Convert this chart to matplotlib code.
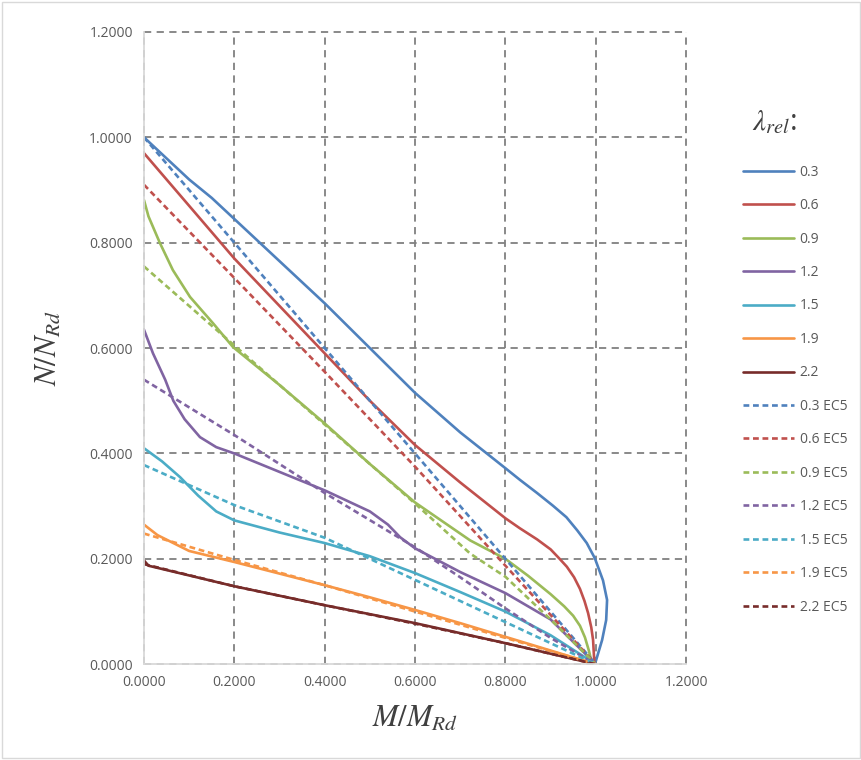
import matplotlib.pyplot as plt
from matplotlib.patches import Rectangle

plt.rcParams['font.family'] = ['Open Sans', 'DejaVu Sans']
plt.rcParams['mathtext.fontset'] = 'stix'

# slenderness values and Excel-like colours
labels = ['0.3', '0.6', '0.9', '1.2', '1.5', '1.9', '2.2']
colors = ['#4F81BD', '#C0504D', '#9BBB59', '#8064A2', '#4BACC6', '#F79646', '#772C2A']

# numerical model (solid)
m_03 = [0, 0.05, 0.1, 0.15, 0.2, 0.3, 0.4, 0.5, 0.6, 0.7, 0.8, 0.832, 0.87, 0.905, 0.935, 0.959,
        0.98, 0.998, 1.016, 1.025, 1.023, 1.014, 1.005, 0.998]
n_03 = [1.0, 0.96, 0.92, 0.885, 0.845, 0.765, 0.685, 0.6, 0.515, 0.44, 0.372, 0.35, 0.325, 0.301,
        0.279, 0.254, 0.23, 0.201, 0.159, 0.122, 0.084, 0.046, 0.02, 0.0]
m_06 = [0, 0.1, 0.2, 0.3, 0.4, 0.5, 0.6, 0.7, 0.8, 0.832, 0.87, 0.9, 0.92, 0.936, 0.952, 0.965,
        0.975, 0.983, 0.99, 0.994, 0.997]
n_06 = [0.97, 0.87, 0.77, 0.68, 0.59, 0.5, 0.416, 0.345, 0.277, 0.258, 0.237, 0.218, 0.2, 0.185,
        0.165, 0.143, 0.12, 0.097, 0.07, 0.046, 0.0]
m_09 = [0, 0.01, 0.035, 0.064, 0.102, 0.153, 0.197, 0.3, 0.4, 0.5, 0.6, 0.722, 0.8, 0.85, 0.9,
        0.93, 0.95, 0.965, 0.976, 0.985, 0.992]
n_09 = [0.881, 0.85, 0.80, 0.748, 0.697, 0.647, 0.602, 0.53, 0.457, 0.38, 0.307, 0.235, 0.2, 0.168,
        0.133, 0.11, 0.092, 0.073, 0.051, 0.025, 0.0]
m_12 = [0, 0.02, 0.047, 0.065, 0.09, 0.124, 0.16, 0.2, 0.3, 0.4, 0.45, 0.5, 0.54, 0.567, 0.6, 0.7,
        0.8, 0.9, 1.0]
n_12 = [0.635, 0.59, 0.54, 0.50, 0.465, 0.431, 0.412, 0.40, 0.365, 0.33, 0.31, 0.29, 0.265, 0.241,
        0.22, 0.175, 0.135, 0.085, 0.0]
m_15 = [0, 0.04, 0.08, 0.12, 0.16, 0.2, 0.3, 0.4, 0.5, 0.6, 0.7, 0.8, 0.9, 1.0]
n_15 = [0.41, 0.385, 0.355, 0.32, 0.29, 0.273, 0.25, 0.23, 0.205, 0.173, 0.137, 0.10, 0.055, 0.0]
m_19 = [0, 0.03, 0.065, 0.1, 0.2, 0.3, 0.4, 0.5, 0.6, 0.7, 0.8, 0.9, 1.0]
n_19 = [0.265, 0.245, 0.23, 0.215, 0.194, 0.172, 0.15, 0.127, 0.103, 0.078, 0.052, 0.026, 0.0]
m_22 = [0, 0.01, 0.2, 0.4, 0.6, 0.8, 1.0]
n_22 = [0.197, 0.187, 0.148, 0.112, 0.078, 0.04, 0.0]

# EC5 (dashed)
me_03 = [0, 0.2, 0.4, 0.6, 0.8, 1.0]
ne_03 = [1.0, 0.8, 0.6, 0.4, 0.2, 0.0]
me_06 = [0, 0.2, 0.4, 0.6, 0.8, 1.0]
ne_06 = [0.91, 0.733, 0.555, 0.375, 0.187, 0.0]
me_09 = [0, 0.1, 0.2, 0.3, 0.4, 0.5, 0.6, 0.722, 0.8, 0.9, 1.0]
ne_09 = [0.755, 0.68, 0.605, 0.53, 0.455, 0.38, 0.305, 0.21, 0.166, 0.085, 0.0]
me_12 = [0, 0.2, 0.4, 0.6, 0.7, 0.8, 0.9, 1.0]
ne_12 = [0.54, 0.435, 0.325, 0.222, 0.165, 0.106, 0.05, 0.0]
me_15 = [0, 0.2, 0.4, 0.6, 0.8, 1.0]
ne_15 = [0.378, 0.302, 0.24, 0.16, 0.08, 0.0]
me_19 = [0, 0.2, 0.4, 0.6, 0.8, 1.0]
ne_19 = [0.248, 0.198, 0.15, 0.1, 0.05, 0.0]
me_22 = [0, 0.2, 0.4, 0.6, 0.8, 1.0]
ne_22 = [0.19, 0.148, 0.112, 0.077, 0.04, 0.0]

solid = [(m_03, n_03), (m_06, n_06), (m_09, n_09), (m_12, n_12), (m_15, n_15), (m_19, n_19), (m_22, n_22)]
dashed = [(me_03, ne_03), (me_06, ne_06), (me_09, ne_09), (me_12, ne_12), (me_15, ne_15), (me_19, ne_19), (me_22, ne_22)]

ticks = [0, 0.2, 0.4, 0.6, 0.8, 1.0, 1.2]

fig = plt.figure(figsize=(8.62, 7.6), dpi=100)
ax = fig.add_axes([0.167, 0.126, 0.629, 0.832])

for (m, n), c, lab in zip(solid, colors, labels):
    ax.plot(m, n, color=c, lw=1.9, label=lab, solid_joinstyle='round', solid_capstyle='round')
for (m, n), c, lab in zip(dashed, colors, labels):
    ax.plot(m, n, color=c, lw=1.9, ls=(0, (2.2, 1.4)), label=lab + ' EC5')

ax.set_xlim(0, 1.2)
ax.set_ylim(0, 1.2)
ax.set_xticks(ticks)
ax.set_yticks(ticks)
ax.set_xticklabels([f'{t:.4f}' for t in ticks])
ax.set_yticklabels([f'{t:.4f}' for t in ticks])
ax.tick_params(length=0, labelsize=10, colors='#595959', pad=8)
ax.grid(True, color='#808080', ls=(0, (4, 3)), lw=1.3)
for gl in ax.get_xgridlines() + ax.get_ygridlines():
    gl.set_clip_on(False)
for s in ['top', 'right']:
    ax.spines[s].set_visible(False)
for s in ['left', 'bottom']:
    ax.spines[s].set_color('#d9d9d9')
    ax.spines[s].set_linewidth(1.3)
ax.set_axisbelow(True)

ax.set_xlabel(r'$M/M_{Rd}$', fontsize=22, color='#404040', labelpad=10)
ax.set_ylabel(r'$N/N_{Rd}$', fontsize=22, color='#404040', labelpad=18)

leg = ax.legend(loc='upper left', bbox_to_anchor=(1.081, 0.81), frameon=False,
                fontsize=10, handlelength=3.7, labelspacing=1.33, handletextpad=0.4,
                labelcolor='#595959')
fig.text(0.872, 0.839, r'$\lambda_{rel}$:', fontsize=21, color='#404040', ha='left', va='center')

fig.patches.append(Rectangle((0.002, 0.002), 0.996, 0.996, transform=fig.transFigure,
                             fill=False, edgecolor='#d9d9d9', lw=1))

fig.savefig('out.png', dpi=100)
